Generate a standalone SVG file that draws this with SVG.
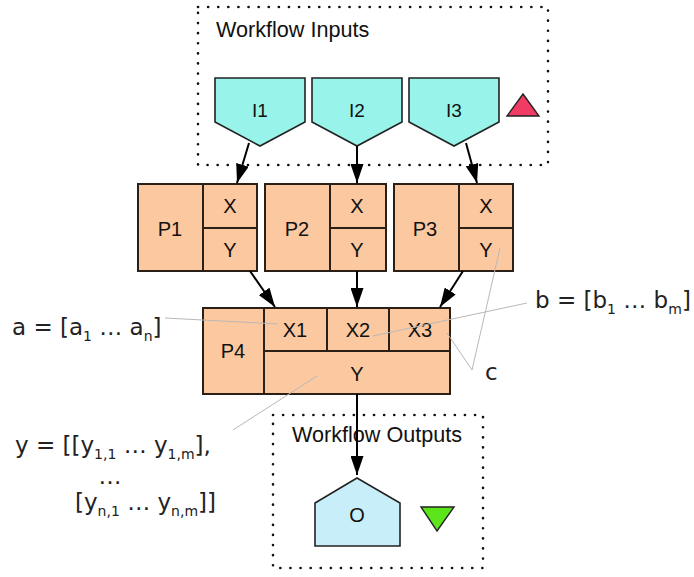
<svg xmlns="http://www.w3.org/2000/svg" width="694" height="577" viewBox="0 0 694 577">
<style>
.box{fill:none;stroke:#111;stroke-width:2.6;stroke-dasharray:0.1 10;stroke-linecap:round}
.ttl{font-family:"Liberation Sans",Arial,sans-serif;font-size:21.6px;fill:#111}
.lbl{font-family:"Liberation Sans",Arial,sans-serif;font-size:20px;fill:#111;text-anchor:middle}
.ilbl{font-size:19px}
.inp{fill:#98f4ea;stroke:#222;stroke-width:1.6}
.outp{fill:#c8eefa;stroke:#222;stroke-width:1.6}
.cell{fill:#fbc8a0;stroke:#2a2018;stroke-width:2}
.edge{stroke:#000;stroke-width:2;fill:none}
.ann{stroke:#b8b8b8;stroke-width:1;fill:none}
.math{font-family:"DejaVu Sans",sans-serif;font-size:23px;fill:#222}
.sub{font-size:14px}
</style>
<defs>
<marker id="ah" markerUnits="userSpaceOnUse" markerWidth="19" markerHeight="13" refX="19" refY="6.5" orient="auto">
<path d="M0,0 L19,6.5 L0,13 z" fill="#000"/>
</marker>
</defs>

<g id="workflow-inputs">
<rect class="box" x="198" y="7" width="350" height="158"/>
<text class="ttl" x="216" y="37">Workflow Inputs</text>
<polygon points="523,94 539,116 507,116" fill="#f03c64" stroke="#222" stroke-width="1.4"/>
</g>
<g id="I1"><polygon class="inp" points="215,78 305,78 305,122 260,146 215,122"/><text class="lbl ilbl" x="260" y="117">I1</text></g>
<g id="I2"><polygon class="inp" points="312,78 402,78 402,122 357,146 312,122"/><text class="lbl ilbl" x="357" y="117">I2</text></g>
<g id="I3"><polygon class="inp" points="409,78 499,78 499,122 454,146 409,122"/><text class="lbl ilbl" x="454" y="117">I3</text></g>

<g id="P1">
<rect class="cell" x="138" y="184" width="65" height="87"/>
<rect class="cell" x="203" y="184" width="54" height="44"/>
<rect class="cell" x="203" y="228" width="54" height="43"/>
<text class="lbl" x="170" y="236">P1</text><text class="lbl" x="230" y="213">X</text><text class="lbl" x="230" y="257">Y</text>
</g>
<g id="P2">
<rect class="cell" x="265" y="184" width="65" height="87"/>
<rect class="cell" x="330" y="184" width="56" height="44"/>
<rect class="cell" x="330" y="228" width="56" height="43"/>
<text class="lbl" x="297" y="236">P2</text><text class="lbl" x="357" y="213">X</text><text class="lbl" x="357" y="257">Y</text>
</g>
<g id="P3">
<rect class="cell" x="394" y="184" width="65" height="87"/>
<rect class="cell" x="459" y="184" width="54" height="44"/>
<rect class="cell" x="459" y="228" width="54" height="43"/>
<text class="lbl" x="425" y="236">P3</text><text class="lbl" x="486" y="213">X</text><text class="lbl" x="486" y="257">Y</text>
</g>
<g id="P4">
<rect class="cell" x="203" y="308" width="61" height="86"/>
<rect class="cell" x="264" y="308" width="63" height="43"/>
<rect class="cell" x="327" y="308" width="62" height="43"/>
<rect class="cell" x="389" y="308" width="61" height="43"/>
<rect class="cell" x="264" y="351" width="186" height="43"/>
<text class="lbl" x="233" y="358">P4</text>
<text class="lbl" x="295" y="337">X1</text><text class="lbl" x="358" y="337">X2</text><text class="lbl" x="420" y="337">X3</text>
<text class="lbl" x="357" y="381">Y</text>
</g>

<g id="workflow-outputs">
<rect class="box" x="273" y="415" width="210" height="153"/>
<text class="ttl" x="292" y="442">Workflow Outputs</text>
<polygon points="421,507 454,507 437,531" fill="#5be51a" stroke="#222" stroke-width="1.4"/>
</g>
<g id="O"><polygon class="outp" points="357,478 400,503 400,546 315,546 315,503"/><text class="lbl" x="357" y="522">O</text></g>

<g id="connectors">
<line class="edge" x1="249" y1="143" x2="237" y2="183" marker-end="url(#ah)"/>
<line class="edge" x1="357" y1="146" x2="357" y2="183" marker-end="url(#ah)"/>
<line class="edge" x1="466" y1="143" x2="477" y2="183" marker-end="url(#ah)"/>
<line class="edge" x1="250" y1="271" x2="275" y2="307" marker-end="url(#ah)"/>
<line class="edge" x1="357" y1="271" x2="357" y2="307" marker-end="url(#ah)"/>
<line class="edge" x1="463" y1="271" x2="440" y2="307" marker-end="url(#ah)"/>
<line class="edge" x1="357" y1="394" x2="357" y2="475" marker-end="url(#ah)"/>
</g>

<g id="annotations">
<line class="ann" x1="165" y1="318" x2="278" y2="324"/>
<line class="ann" x1="527" y1="303" x2="373" y2="336"/>
<polyline class="ann" points="500,248 472,370 447,333"/>
<line class="ann" x1="317" y1="376" x2="233" y2="430"/>
<text class="math" x="12" y="335">a = [a<tspan class="sub" dy="6">1</tspan><tspan dy="-6"> … a</tspan><tspan class="sub" dy="6">n</tspan><tspan dy="-6">]</tspan></text>
<text class="math" x="535" y="308">b = [b<tspan class="sub" dy="6">1</tspan><tspan dy="-6"> … b</tspan><tspan class="sub" dy="6">m</tspan><tspan dy="-6">]</tspan></text>
<text class="math" x="485" y="380">c</text>
<text class="math" x="15" y="453">y = [[y<tspan class="sub" dy="6">1,1</tspan><tspan dy="-6"> … y</tspan><tspan class="sub" dy="6">1,m</tspan><tspan dy="-6">],</tspan></text>
<text class="math" x="110" y="484" font-size="21" text-anchor="middle">…</text>
<text class="math" x="75" y="510">[y<tspan class="sub" dy="6">n,1</tspan><tspan dy="-6"> … y</tspan><tspan class="sub" dy="6">n,m</tspan><tspan dy="-6">]]</tspan></text>
</g>
</svg>
